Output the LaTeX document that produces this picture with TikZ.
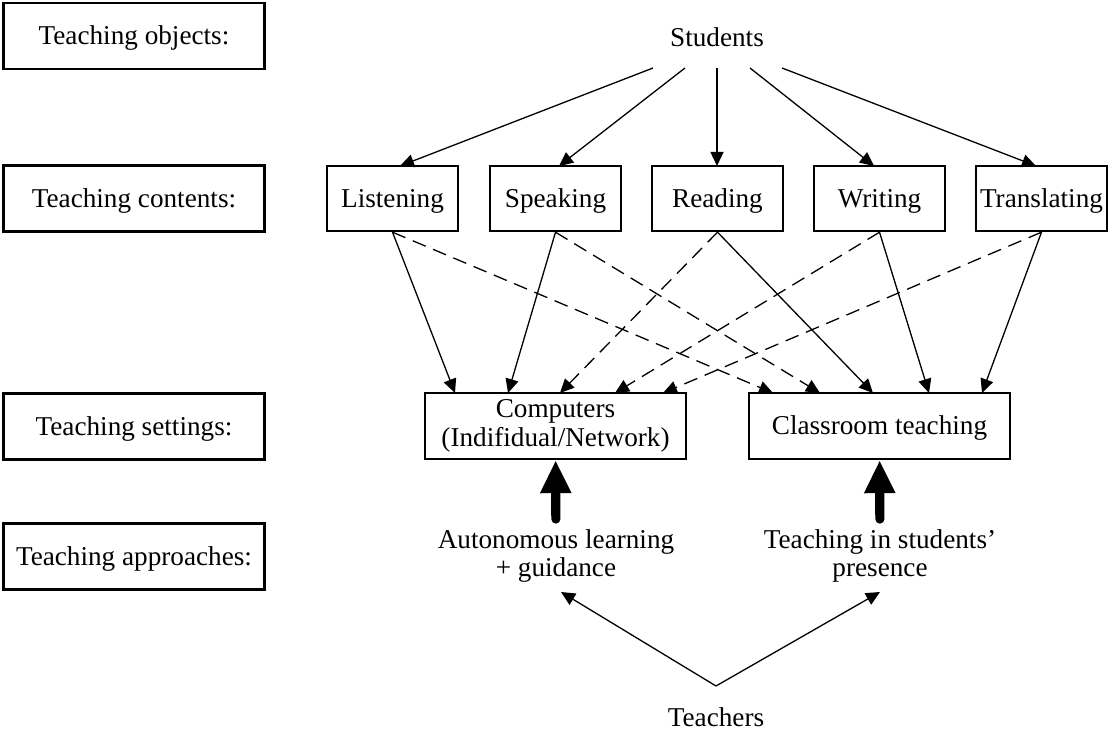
\documentclass[tikz,border=0pt]{standalone}
\usepackage{fontspec}
\setmainfont{Liberation Serif}
\usetikzlibrary{arrows.meta}
\tikzset{
  lbl/.style={draw, line width=1.2pt, minimum width=130.5pt, minimum height=33pt, inner sep=0pt, text height=11pt, text depth=2pt},
  cbox/.style={draw, line width=1.2pt, minimum width=65.5pt, minimum height=32.5pt, inner sep=0pt, text height=11pt, text depth=2pt},
  sbox/.style={draw, line width=1.2pt, minimum width=130.5pt, minimum height=33pt, inner sep=0pt, align=center},
  txt/.style={inner sep=1pt, align=center},
  arr/.style={line width=0.65pt, -{Triangle[length=7pt,width=6.5pt]}},
  darr/.style={arr, dash pattern=on 7pt off 4pt},
  bigarr/.style={line width=4.6pt, line cap=round, -{Triangle[length=16.5pt,width=14.5pt]}}
}
\begin{document}
\begin{tikzpicture}[x=0.5pt,y=-0.5pt, font=\fontsize{13.6}{14.2}\selectfont]
\useasboundingbox (0,0) rectangle (1109,731);
% left labels
\node[lbl] (obj) at (134,36) {Teaching objects:};
\node[lbl] (cont) at (134,198.5) {Teaching contents:};
\node[lbl] (sett) at (134,426.5) {Teaching settings:};
\node[lbl] (appr) at (134,556.5) {Teaching approaches:};
% students
\node[txt] (stu) at (717,37) {Students};
\coordinate (s1) at (653,68);
\coordinate (s2) at (685,68);
\coordinate (s3) at (717,68);
\coordinate (s4) at (750,68);
\coordinate (s5) at (782,68);
% contents
\node[cbox] (lis) at (392.5,198.5) {Listening};
\node[cbox] (spe) at (555.5,198.5) {Speaking};
\node[cbox] (rea) at (717.5,198.5) {Reading};
\node[cbox] (wri) at (879.5,198.5) {Writing};
\node[cbox] (tra) at (1041.5,198.5) {Translating};
% settings
\node[sbox] (comp) at (555.5,426) {Computers\\(Indifidual/Network)};
\node[sbox, text height=11pt, text depth=2pt] (cls) at (879.5,426) {Classroom teaching};
% approaches
\node[txt] (auto) at (556,556) {Autonomous learning\\+ guidance};
\node[txt] (pres) at (880,556) {Teaching in students'\\presence};
\node[txt] (tea) at (716,717) {Teachers};
% top arrow ends
\coordinate (l0) at (400,166);
\coordinate (p0) at (559,166);
\coordinate (r0) at (717,166);
\coordinate (w0) at (874,166);
\coordinate (t0) at (1036,166);
\draw[arr] (s1) -- (l0);
\draw[arr] (s2) -- (p0);
\draw[arr] (s3) -- (r0);
\draw[arr] (s4) -- (w0);
\draw[arr] (s5) -- (t0);
% setting top points
\coordinate (c1) at (455,393);
\coordinate (c2) at (508,393);
\coordinate (c3) at (560,393);
\coordinate (c4) at (615,393);
\coordinate (c5) at (663,393);
\coordinate (k1) at (773,393);
\coordinate (k2) at (820,393);
\coordinate (k3) at (873,393);
\coordinate (k4) at (929,393);
\coordinate (k5) at (982,393);
\draw[arr] (lis.south) -- (c1);
\draw[darr] (lis.south) -- (k1);
\draw[arr] (spe.south) -- (c2);
\draw[darr] (spe.south) -- (k2);
\draw[darr] (rea.south) -- (c3);
\draw[arr] (rea.south) -- (k3);
\draw[darr] (wri.south) -- (c4);
\draw[arr] (wri.south) -- (k4);
\draw[darr] (tra.south) -- (c5);
\draw[arr] (tra.south) -- (k5);
% thick arrows
\draw[bigarr, shorten <=4pt] (auto) -- (comp);
\draw[bigarr, shorten <=4pt] (pres) -- (cls);
% teachers
\coordinate (apex) at (716,686);
\coordinate (ta) at (561,592);
\coordinate (tp) at (880,592);
\draw[arr] (apex) -- (ta);
\draw[arr] (apex) -- (tp);
\end{tikzpicture}
\end{document}
